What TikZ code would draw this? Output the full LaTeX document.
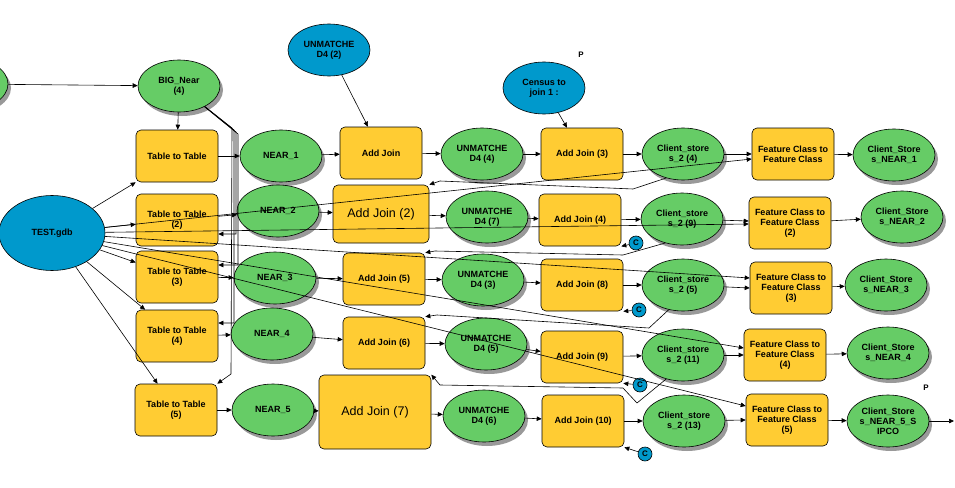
\documentclass[tikz,border=0pt]{standalone}
\usepackage{fontspec}
\setmainfont{Liberation Sans}
\usetikzlibrary{shapes, arrows.meta, positioning, calc, shadows}

\definecolor{toolyellow}{RGB}{255,204,51}
\definecolor{datagreen}{RGB}{102,204,102}
\definecolor{parblue}{RGB}{0,153,204}

\begin{document}
\begin{tikzpicture}[
    x=1pt, y=-1pt,
    line width=0.6pt,
    tool/.style={draw, rectangle, rounded corners=5pt, minimum height=52pt, minimum width=82pt, fill=toolyellow, align=center, inner sep=1pt, font=\fontsize{9}{10}\selectfont\bfseries},
    bigtool/.style={tool, font=\fontsize{12.5}{14}\selectfont},
    data/.style={draw, ellipse, minimum height=52pt, minimum width=82pt, inner sep=0pt, fill=datagreen, align=center, font=\fontsize{9}{10}\selectfont\bfseries, general shadow={fill=black!40, shadow xshift=3pt, shadow yshift=-4pt}},
    param/.style={draw, ellipse, minimum height=52pt, minimum width=82pt, inner sep=0pt, fill=parblue, align=center, font=\fontsize{9}{10}\selectfont\bfseries},
    cflag/.style={draw, circle, fill=parblue, minimum size=14pt, inner sep=0pt, font=\fontsize{8}{8}\selectfont\bfseries},
    pflag/.style={inner sep=0pt, font=\fontsize{8}{8}\selectfont\bfseries},
    flow/.style={-{Triangle[length=5pt,width=4.5pt]}}
]
    \useasboundingbox (0,0) rectangle (955,487);
    \clip (0,0) rectangle (955,487);

    % Inputs on top
    \node[data] (src) at (-33,84) {};
    \node[data] (big) at (179,86) {BIG\_Near\\(4)};
    \node[param] (unm2) at (329,50) {UNMATCHE\\D4 (2)};
    \node[param] (census) at (544,88) {Census to\\join 1 :};
    \node[pflag] (p1) at (581,55) {P};
    \node[pflag] (p2) at (926,388) {P};

    % Workspace
    \node[param, minimum width=106pt, minimum height=75pt] (test) at (52,233) {TEST.gdb};

    % Row 1
    \node[tool] (tt1) at (177,156) {Table to Table};
    \node[data] (near1) at (281,156) {NEAR\_1};
    \node[tool] (aj1) at (381,153) {Add Join};
    \node[data] (unm4) at (482,154) {UNMATCHE\\D4 (4)};
    \node[tool] (aj3) at (582,154) {Add Join (3)};
    \node[data] (cs4) at (683,154) {Client\_store\\s\_2 (4)};
    \node[tool] (fc1) at (793,154) {Feature Class to\\Feature Class};
    \node[data] (out1) at (894,155) {Client\_Store\\s\_NEAR\_1};

    % Row 2
    \node[tool] (tt2) at (177,220) {Table to Table\\(2)};
    \node[data] (near2) at (278,211) {NEAR\_2};
    \node[bigtool, minimum width=96pt, minimum height=58pt] (aj2) at (381,214) {Add Join (2)};
    \node[data] (unm7) at (487,217) {UNMATCHE\\D4 (7)};
    \node[tool] (aj4) at (580,220) {Add Join (4)};
    \node[data] (cs9) at (682,219) {Client\_store\\s\_2 (9)};
    \node[tool] (fc2) at (790,223) {Feature Class to\\Feature Class\\(2)};
    \node[data] (out2) at (902,217) {Client\_Store\\s\_NEAR\_2};

    % Row 3
    \node[tool] (tt3) at (177,277) {Table to Table\\(3)};
    \node[data] (near3) at (275,278) {NEAR\_3};
    \node[tool] (aj5) at (384,279) {Add Join (5)};
    \node[data] (unm3) at (483,280) {UNMATCHE\\D4 (3)};
    \node[tool] (aj8) at (582,285) {Add Join (8)};
    \node[data] (cs5) at (683,285) {Client\_store\\s\_2 (5)};
    \node[tool] (fc3) at (791,288) {Feature Class to\\Feature Class\\(3)};
    \node[data] (out3) at (886,285) {Client\_Store\\s\_NEAR\_3};

    % Row 4
    \node[tool] (tt4) at (177,336) {Table to Table\\(4)};
    \node[data] (near4) at (272,334) {NEAR\_4};
    \node[tool] (aj6) at (384,343) {Add Join (6)};
    \node[data] (unm5) at (486,344) {UNMATCHE\\D4 (5)};
    \node[tool] (aj9) at (582,357) {Add Join (9)};
    \node[data] (cs11) at (683,355) {Client\_store\\s\_2 (11)};
    \node[tool] (fc4) at (785,355) {Feature Class to\\Feature Class\\(4)};
    \node[data] (out4) at (888,353) {Client\_Store\\s\_NEAR\_4};

    % Row 5
    \node[tool] (tt5) at (176,410) {Table to Table\\(5)};
    \node[data] (near5) at (273,410) {NEAR\_5};
    \node[bigtool, minimum width=112pt, minimum height=74pt] (aj7) at (375,412) {Add Join (7)};
    \node[data] (unm6) at (484,416) {UNMATCHE\\D4 (6)};
    \node[tool] (aj10) at (583,421) {Add Join (10)};
    \node[data] (cs13) at (684,421) {Client\_store\\s\_2 (13)};
    \node[tool] (fc5) at (787,420) {Feature Class to\\Feature Class\\(5)};
    \node[data] (out5) at (888,421) {Client\_Store\\s\_NEAR\_5\_S\\IPCO};
    \coordinate (exit) at (954,421);

    % Join field flags
    \node[cflag] (c4) at (636,243) {C};
    \node[cflag] (c8) at (639,310) {C};
    \node[cflag] (c9) at (640,385) {C};
    \node[cflag] (c10) at (645,454) {C};

    % Inputs to the tools
    \draw[flow] (src) -- (big);
    \draw[flow] (big) -- (tt1);
    \draw[flow] (unm2) -- ([xshift=-13pt]aj1.north);
    \draw[flow] (census) -- ([xshift=-15pt]aj3.north);
    \draw[flow] (test) -- (tt1.south west);
    \draw[flow] (test) -- (tt2);
    \draw[flow] (test) -- (tt3);
    \draw[flow] (test) -- (tt4);
    \draw[flow] (test) -- (tt5);

    % BIG_Near into the other Table to Table tools
    \draw[flow] (big) -- (236,132) |- ([yshift=-14pt]tt2.east);
    \draw[flow] (big) -- (238,134) |- ([yshift=12pt]tt3.east);
    \draw[flow] (big) -- (234,130) |- ([yshift=13pt]tt4.east);
    \draw[flow] (big) -- (232,128) -- (231,374) -- (tt5.north east);

    % Row chains
    \draw[flow] (tt1) -- (near1);
    \draw[flow] (near1) -- (aj1);
    \draw[flow] (aj1) -- (unm4);
    \draw[flow] (unm4) -- (aj3);
    \draw[flow] (aj3) -- (cs4);
    \draw[flow] (cs4) -- (fc1.west);
    \draw[flow] (fc1) -- (out1);

    \draw[flow] (tt2) -- (near2);
    \draw[flow] (near2) -- (aj2);
    \draw[flow] (aj2) -- (unm7);
    \draw[flow] (unm7) -- (aj4);
    \draw[flow] (aj4) -- (cs9);
    \draw[flow] (cs9) -- ([yshift=2pt]fc2.west);
    \draw[flow] (fc2) -- (out2);

    \draw[flow] (tt3) -- (near3);
    \draw[flow] (near3) -- (aj5);
    \draw[flow] (aj5) -- (unm3);
    \draw[flow] (unm3) -- (aj8);
    \draw[flow] (aj8) -- (cs5);
    \draw[flow] (cs5) -- (fc3.west);
    \draw[flow] (fc3) -- (out3);

    \draw[flow] (tt4) -- (near4);
    \draw[flow] (near4) -- (aj6);
    \draw[flow] (aj6) -- (unm5);
    \draw[flow] (unm5) -- (aj9);
    \draw[flow] (aj9) -- (cs11);
    \draw[flow] (cs11) -- (fc4.west);
    \draw[flow] (fc4) -- (out4);

    \draw[flow] (tt5) -- (near5);
    \draw[flow] (near5) -- (aj7);
    \draw[flow] (aj7) -- (unm6);
    \draw[flow] (unm6) -- (aj10);
    \draw[flow] (aj10) -- (cs13);
    \draw[flow] (cs13) -- (fc5.west);
    \draw[flow] (fc5) -- (out5);
    \draw[flow] (out5) -- (exit);

    % Output workspace into Feature Class to Feature Class
    \draw[flow] (test) -- ([yshift=-5pt]fc1.west);
    \draw[flow] (test) -- ([yshift=-1pt]fc2.west);
    \draw[flow] (test) -- ([yshift=10pt]fc3.west);
    \draw[flow] (test) -- ([yshift=7pt]fc4.west);
    \draw[flow] (test) -- ([yshift=14pt]fc5.west);

    % Joined outputs back into the next Add Join
    \draw[flow] (cs4.235) -- (633,189) -- (440,181) -- (aj2.north east);
    \draw[flow] (cs9.235) -- (623,255) -- (435,251) -- (aj5.north east);
    \draw[flow] (cs5.240) -- (649,328) -- (437,315) -- (aj6.north east);
    \draw[flow] (cs11.235) -- (637,403) -- (623,388) -- (440,385) -- (aj7.north east);

    % Flags into the Add Join tools
    \draw[flow] (c4) -- (aj4.south east);
    \draw[flow] (c8) -- (aj8.south east);
    \draw[flow] (c9) -- (aj9.south east);
    \draw[flow] (c10) -- (aj10.south east);

\end{tikzpicture}
\end{document}
